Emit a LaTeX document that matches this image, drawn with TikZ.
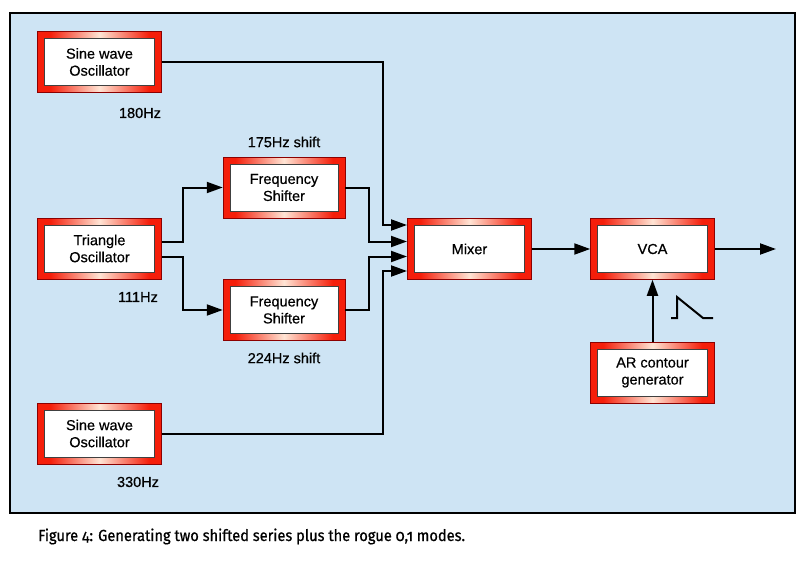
\documentclass[tikz,border=0pt]{standalone}
\usepackage{fontspec}
\setmainfont{Liberation Sans}[FakeBold=0.5]
\newfontfamily\capfont{Fira Sans}[Numbers=OldStyle,FakeStretch=0.915,FakeBold=0.8]
\usetikzlibrary{arrows.meta}
\definecolor{panelbg}{RGB}{206,228,244}
\definecolor{boxred}{RGB}{245,30,10}
\definecolor{glow}{RGB}{255,228,212}
\pgfdeclarehorizontalshading{redglow}{100bp}{color(0bp)=(boxred); color(30bp)=(boxred); color(50bp)=(glow); color(70bp)=(boxred); color(100bp)=(boxred)}
\tikzset{
  redbox/.style={shading=redglow, draw=red!55!black, line width=0.5pt,
    minimum width=124pt, minimum height=61pt, inner sep=0pt, align=center,
    font=\fontsize{14.5}{17}\selectfont,
    path picture={\filldraw[fill=white, draw=black!75, line width=0.6pt]
      ([shift={(7pt,-7pt)}]path picture bounding box.north west) rectangle
      ([shift={(-7pt,7pt)}]path picture bounding box.south east);}},
  lbl/.style={font=\fontsize{14.5}{17}\selectfont, inner sep=0pt},
  conn/.style={line width=2pt, line join=miter},
  arr/.style={conn, -{Triangle[length=16pt,width=11pt]}}
}
\begin{document}
\begin{tikzpicture}[x=1pt,y=-1pt]
\useasboundingbox (0,0) rectangle (806,562);
\fill[panelbg] (10,13) rectangle (795,513);
\draw[line width=1.5pt] (10,13) rectangle (795,513);

\node[redbox] (s1) at (99.5,62) {Sine wave\\Oscillator};
\node[redbox] (tri) at (99.5,248.5) {Triangle\\Oscillator};
\node[redbox] (s2) at (99.5,433.5) {Sine wave\\Oscillator};
\node[redbox, minimum width=122pt] (f1) at (284,187.5) {Frequency\\Shifter};
\node[redbox, minimum width=122pt] (f2) at (284,310) {Frequency\\Shifter};
\node[redbox] (mix) at (469.5,249) {Mixer};
\node[redbox] (vca) at (652.5,249) {VCA};
\node[redbox] (ar) at (652.5,372.5) {AR contour\\generator};

\node[lbl] (l180) at (140,113) {180Hz};
\node[lbl] (l111) at (138,297) {111Hz};
\node[lbl] (l330) at (138,482) {330Hz};
\node[lbl] (l175) at (284,142) {175Hz shift};
\node[lbl] (l224) at (284,358) {224Hz shift};

\coordinate (m1) at (407,225);
\coordinate (m2) at (407,241.5);
\coordinate (m3) at (407,256.5);
\coordinate (m4) at (407,271);
\coordinate (t1) at (162,241.5);
\coordinate (t2) at (162,256.5);
\coordinate (out) at (776,249);

\draw[arr] (s1.east) -| (383,225) -- (m1);
\draw[arr] (f1.east) -| (369,241.5) -- (m2);
\draw[arr] (f2.east) -| (369,256.5) -- (m3);
\draw[arr] (s2.east) -| (383,271) -- (m4);
\draw[arr] (t1) -| (183,187.5) -- (f1.west);
\draw[arr] (t2) -| (183,310) -- (f2.west);
\draw[arr] (mix.east) -- (vca.west);
\draw[arr] (vca.east) -- (out);
\draw[arr] (ar.north) -- (vca.south);

\draw[conn] (671,318) -- (677,318) -- (677,297) -- (703,318) -- (713,318);

\node[anchor=base west, inner sep=0pt, font=\capfont\fontsize{16}{18}\selectfont] (cap) at (38,541) {Figure 4: Generating two shifted series plus the rogue 0,1 modes.};
\end{tikzpicture}
\end{document}
